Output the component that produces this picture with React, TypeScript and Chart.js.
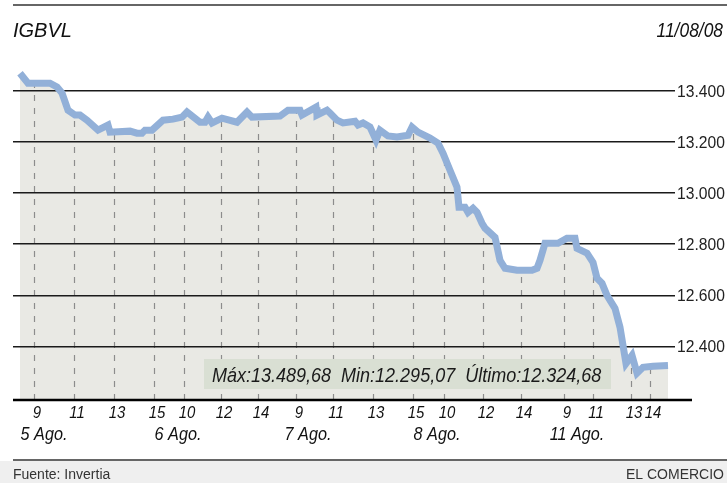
import React, { useEffect, useRef } from 'react';
import { Chart, registerables } from 'chart.js';

Chart.register(...registerables);

// ---- data (time axis in approximate trading hours from first quote) ----
const times = [0, 0.4, 1.5, 1.85, 2.1, 2.4, 2.75, 3.0, 3.35, 3.9, 4.4, 4.5, 5.5, 5.85, 6.1, 6.25, 6.6, 7.15, 7.65, 8.1, 8.35, 9.0, 9.25, 9.4, 9.6, 10.1, 10.85, 11.35, 11.6, 13.0, 13.4, 14.0, 14.1, 14.8, 14.85, 15.35, 15.5, 15.85, 16.15, 16.75, 16.9, 17.15, 17.5, 17.8, 18.0, 18.4, 18.85, 19.4, 19.6, 19.9, 20.5, 20.9, 21.15, 21.5, 21.85, 21.95, 22.25, 22.4, 22.65, 22.85, 23.1, 23.25, 23.75, 24.0, 24.25, 24.85, 25.6, 25.85, 26.0, 26.25, 26.9, 27.35, 27.75, 27.85, 28.35, 28.65, 28.85, 29.1, 29.35, 29.75, 30.0, 30.3, 30.6, 30.85, 31.15, 31.65, 32.4];
const values = [13470, 13431, 13431, 13416, 13392, 13325, 13306, 13306, 13286, 13247, 13267, 13239, 13243, 13235, 13235, 13247, 13247, 13286, 13290, 13298, 13318, 13278, 13278, 13298, 13275, 13294, 13278, 13318, 13298, 13302, 13325, 13325, 13306, 13337, 13306, 13325, 13314, 13286, 13275, 13282, 13267, 13275, 13259, 13208, 13247, 13224, 13220, 13227, 13259, 13239, 13216, 13196, 13157, 13090, 13024, 12945, 12945, 12925, 12941, 12925, 12882, 12863, 12827, 12737, 12706, 12698, 12698, 12706, 12737, 12804, 12804, 12824, 12824, 12784, 12765, 12729, 12667, 12647, 12600, 12549, 12475, 12333, 12365, 12295.07, 12318, 12322, 12324.68];

const hourTickTimes = [0.7, 2.7, 4.7, 6.7, 8.2, 10.05, 11.9, 13.8, 15.65, 17.65, 19.65, 21.2, 23.15, 25.05, 27.2, 28.65, 30.55, 31.5];
const hourTickLabels = ['9', '11', '13', '15', '10', '12', '14', '9', '11', '13', '15', '10', '12', '14', '9', '11', '13', '14'];
const dayLabelTimes = [1.2, 7.9, 14.4, 20.85, 27.85];
const dayLabels = ['5 Ago.', '6 Ago.', '7 Ago.', '8 Ago.', '11 Ago.'];
const yTicks = [12400, 12600, 12800, 13000, 13200, 13400];

const titleText = 'IGBVL';
const dateText = '11/08/08';
const statsText = 'Máx:13.489,68  Min:12.295,07  Último:12.324,68';
const sourceText = 'Fuente: Invertia';
const brandText = 'EL COMERCIO';

const FONT = "'Liberation Sans', Arial, Helvetica, sans-serif";
const LINE_BLUE = '#92b0d8';
const AREA_FILL = '#e9e9e4';
const BOX_FILL = '#d9dfd3';

function fmtThousands(v: number): string {
  const k = Math.floor(v / 1000);
  const r = Math.round(v % 1000);
  return k + '.' + String(r).padStart(3, '0');
}

function drawText(ctx: CanvasRenderingContext2D, text: string, x: number, y: number, font: string, color: string, align: CanvasTextAlign, sx = 1, baseline: CanvasTextBaseline = 'alphabetic') {
  ctx.save();
  ctx.font = font;
  ctx.fillStyle = color;
  ctx.textAlign = align;
  ctx.textBaseline = baseline;
  ctx.translate(x, y);
  ctx.scale(sx, 1);
  ctx.fillText(text, 0, 0);
  ctx.restore();
}

const decorPlugin = {
  id: 'decor',
  beforeDraw(chart: any) {
    const { ctx, chartArea, scales } = chart;
    const W = chart.width;
    const H = chart.height;
    // footer band
    ctx.save();
    ctx.fillStyle = '#efefef';
    ctx.fillRect(0, 461, W, H - 461);
    ctx.restore();

    // dashed hour lines clipped to the area under the series
    const meta = chart.getDatasetMeta(0);
    const pts = meta.data;
    if (pts && pts.length) {
      ctx.save();
      ctx.beginPath();
      ctx.moveTo(pts[0].x, chartArea.bottom);
      for (const p of pts) ctx.lineTo(p.x, p.y);
      ctx.lineTo(pts[pts.length - 1].x, chartArea.bottom);
      ctx.closePath();
      ctx.clip();
      ctx.strokeStyle = '#8c8c8c';
      ctx.lineWidth = 1.2;
      ctx.setLineDash([6, 7]);
      for (const t of hourTickTimes) {
        const px = Math.round(scales.x.getPixelForValue(t)) + 0.5;
        ctx.beginPath();
        ctx.moveTo(px, chartArea.bottom);
        ctx.lineTo(px, chartArea.top);
        ctx.stroke();
      }
      ctx.restore();
    }

    // stats box
    ctx.save();
    ctx.fillStyle = BOX_FILL;
    ctx.fillRect(204, 359, 407, 30);
    ctx.restore();
    drawText(ctx, statsText, 212, 382, `italic 20px ${FONT}`, '#1a1a1a', 'left', 0.9);
  },
  afterDraw(chart: any) {
    const { ctx, chartArea, scales } = chart;
    const W = chart.width;
    // top rule
    ctx.save();
    ctx.strokeStyle = '#333';
    ctx.lineWidth = 1.5;
    ctx.beginPath();
    ctx.moveTo(13, 5);
    ctx.lineTo(W, 5);
    ctx.stroke();
    ctx.restore();

    drawText(ctx, titleText, 13, 37, `italic 20px ${FONT}`, '#111', 'left', 1.0);
    drawText(ctx, dateText, W - 4, 37, `italic 20px ${FONT}`, '#111', 'right', 0.87);

    // y labels
    for (const v of yTicks) {
      const py = scales.y.getPixelForValue(v);
      drawText(ctx, fmtThousands(v), chartArea.right + 2, py + 6, `17px ${FONT}`, '#222', 'left', 0.92);
    }

    // x axis baseline
    ctx.save();
    ctx.strokeStyle = '#000';
    ctx.lineWidth = 2.6;
    ctx.beginPath();
    ctx.moveTo(chartArea.left, chartArea.bottom);
    ctx.lineTo(692, chartArea.bottom);
    ctx.stroke();
    ctx.restore();

    // hour labels
    hourTickTimes.forEach((t, i) => {
      const px = scales.x.getPixelForValue(t) + 3;
      drawText(ctx, hourTickLabels[i], px, 418, `italic 17px ${FONT}`, '#111', 'center', 0.88);
    });
    // day labels
    dayLabelTimes.forEach((t, i) => {
      const px = scales.x.getPixelForValue(t);
      drawText(ctx, dayLabels[i], px, 440, `italic 18px ${FONT}`, '#111', 'center', 0.9);
    });

    // footer
    ctx.save();
    ctx.strokeStyle = '#666';
    ctx.lineWidth = 2;
    ctx.beginPath();
    ctx.moveTo(13, 460);
    ctx.lineTo(W, 460);
    ctx.stroke();
    ctx.restore();
    drawText(ctx, sourceText, 13, 479, `14px ${FONT}`, '#333', 'left');
    drawText(ctx, brandText, W - 3, 479, `14px ${FONT}`, '#333', 'right');
  },
};

export default function App() {
  const canvasRef = useRef<HTMLCanvasElement | null>(null);

  useEffect(() => {
    const canvas = canvasRef.current;
    if (!canvas) return;
    const chart = new Chart(canvas, {
      type: 'line',
      data: {
        datasets: [
          {
            data: times.map((t, i) => ({ x: t, y: values[i] })),
            borderColor: LINE_BLUE,
            borderWidth: 7,
            backgroundColor: AREA_FILL,
            fill: 'start',
            pointRadius: 0,
            pointHoverRadius: 0,
            tension: 0,
            borderJoinStyle: 'miter',
            borderCapStyle: 'butt',
          },
        ],
      },
      options: {
        responsive: false,
        devicePixelRatio: 1,
        animation: false,
        events: [],
        layout: { padding: { left: 13, right: 0, top: 40, bottom: 83 } },
        plugins: {
          legend: { display: false },
          tooltip: { enabled: false },
          filler: { drawTime: 'beforeDraw' },
        },
        scales: {
          x: { type: 'linear', display: false, min: -0.35, max: 32.75 },
          y: {
            position: 'right',
            min: 12190,
            max: 13600,
            afterBuildTicks: (s: any) => {
              s.ticks = yTicks.map((v) => ({ value: v }));
            },
            afterFit: (s: any) => {
              s.width = 52;
            },
            grid: { color: '#1a1a1a', lineWidth: 1.6, drawTicks: false },
            border: { display: false },
            ticks: { display: false },
          },
        },
      } as any,
      plugins: [decorPlugin],
    });
    return () => chart.destroy();
  }, []);

  return (
    <div style={{ position: 'absolute', left: 0, top: 0, width: 727, height: 483, background: '#fff' }}>
      <canvas ref={canvasRef} width={727} height={483} style={{ display: 'block' }} />
    </div>
  );
}
